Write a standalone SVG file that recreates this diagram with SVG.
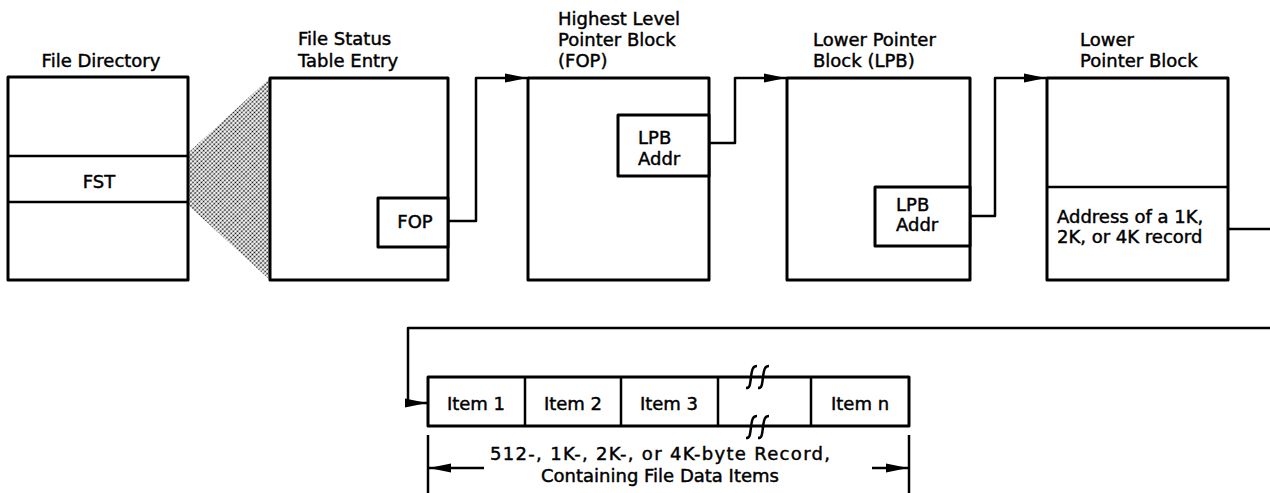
<svg xmlns="http://www.w3.org/2000/svg" width="1270" height="493" viewBox="0 0 1270 493">
<style>
.box{fill:#fff;stroke:#000;stroke-width:3;stroke-linejoin:round}
.ln{fill:none;stroke:#000;stroke-width:2.5}
.cn{fill:none;stroke:#000;stroke-width:2.5;stroke-linejoin:round}
text{font-family:"DejaVu Sans","Liberation Sans",sans-serif;font-size:18px;fill:#000;stroke:#000;stroke-width:0.45}
.c{text-anchor:middle}
</style>
<defs>
<marker id="ah" viewBox="0 0 22 10" refX="22" refY="5" markerWidth="22" markerHeight="10" markerUnits="userSpaceOnUse" orient="auto">
<path d="M0,0.5 L22,5 L0,9.5 Z" fill="#000"/>
</marker>
<pattern id="dots" width="3" height="3" patternUnits="userSpaceOnUse" patternTransform="rotate(45)">
<rect width="3" height="3" fill="#fff"/>
<circle cx="1.5" cy="1.5" r="0.9" fill="#000"/>
</pattern>
</defs>

<polygon points="270,78 189,152 189,206 270,280" fill="url(#dots)"/>

<g id="file-directory">
<rect class="box" x="8" y="77" width="180" height="203"/>
<line class="ln" x1="8" y1="156" x2="188" y2="156"/>
<line class="ln" x1="8" y1="202" x2="188" y2="202"/>
<text class="c" x="101" y="67">File Directory</text>
<text class="c" x="99" y="188">FST</text>
</g>

<g id="fst-entry">
<rect class="box" x="270" y="78" width="178" height="202"/>
<rect class="box" x="378" y="198" width="70" height="49"/>
<text x="298" y="45">File Status</text>
<text x="298" y="67">Table Entry</text>
<text class="c" x="415" y="228">FOP</text>
</g>

<g id="fop-block">
<rect class="box" x="528" y="78" width="181" height="202"/>
<rect class="box" x="618" y="115" width="91" height="61"/>
<text x="558" y="25">Highest Level</text>
<text x="558" y="46">Pointer Block</text>
<text x="558" y="67">(FOP)</text>
<text x="638" y="144">LPB</text>
<text x="638" y="165">Addr</text>
</g>

<g id="lpb-block">
<rect class="box" x="787" y="78" width="183" height="202"/>
<rect class="box" x="875" y="187" width="95" height="59"/>
<text x="813" y="46">Lower Pointer</text>
<text x="813" y="67">Block (LPB)</text>
<text x="896" y="211">LPB</text>
<text x="896" y="231">Addr</text>
</g>

<g id="lower-block">
<rect class="box" x="1047" y="78" width="181" height="202"/>
<line class="ln" x1="1047" y1="187" x2="1228" y2="187"/>
<text x="1080" y="46">Lower</text>
<text x="1080" y="67">Pointer Block</text>
<text x="1057" y="223" font-size="17">Address of a 1K,</text>
<text x="1057" y="243" font-size="17">2K, or 4K record</text>
</g>

<g id="record">
<rect class="box" x="428" y="377" width="481" height="49"/>
<line class="ln" x1="525" y1="377" x2="525" y2="426"/>
<line class="ln" x1="621" y1="377" x2="621" y2="426"/>
<line class="ln" x1="718" y1="377" x2="718" y2="426"/>
<line class="ln" x1="811" y1="377" x2="811" y2="426"/>
<path class="ln" d="M746,388 c4,0 4,-3 5,-11 c1,-8 2,-11 6,-11 M758,388 c4,0 4,-3 5,-11 c1,-8 2,-11 6,-11"/>
<path class="ln" d="M746,438 c4,0 4,-3 5,-11 c1,-8 2,-11 6,-11 M758,438 c4,0 4,-3 5,-11 c1,-8 2,-11 6,-11"/>
<text class="c" x="476" y="410">Item 1</text>
<text class="c" x="573" y="410">Item 2</text>
<text class="c" x="669" y="410">Item 3</text>
<text class="c" x="860" y="410">Item n</text>
<line class="ln" x1="428" y1="435" x2="428" y2="493"/>
<line class="ln" x1="909" y1="435" x2="909" y2="493"/>
<text class="c" x="660" y="460" textLength="340" lengthAdjust="spacing">512-, 1K-, 2K-, or 4K-byte Record,</text>
<text class="c" x="660" y="482">Containing File Data Items</text>
</g>

<g id="connectors">
<path class="cn" d="M448,221 H476 V78 H527" marker-end="url(#ah)"/>
<path class="cn" d="M709,143 H735 V78 H786" marker-end="url(#ah)"/>
<path class="cn" d="M970,216 H995 V78 H1046" marker-end="url(#ah)"/>
<path class="cn" d="M1228,229 H1270"/>
<path class="cn" d="M1270,328 H408 V403 H427" marker-end="url(#ah)"/>
<path class="cn" d="M484,468 H429" marker-end="url(#ah)"/>
<path class="cn" d="M872,468 H908" marker-end="url(#ah)"/>
</g>
</svg>
